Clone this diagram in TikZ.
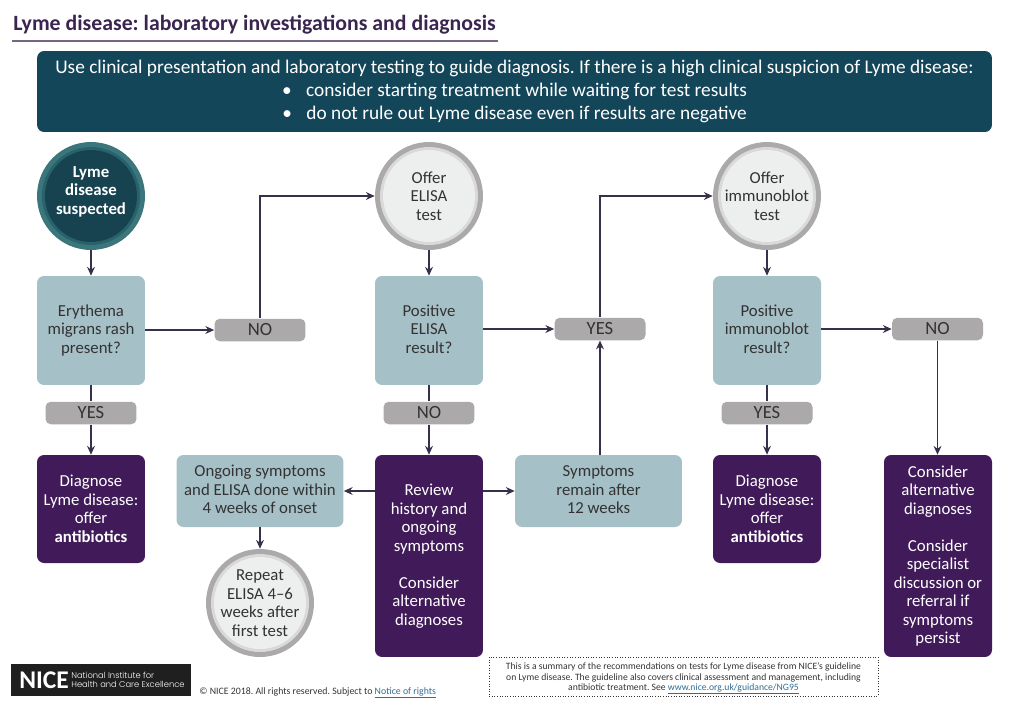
\documentclass[tikz,border=0pt]{standalone}
\usepackage{fontspec}
\usepackage{xcolor}
\setmainfont{Carlito}
\newfontfamily\logofont[UprightFont=* Light]{Poppins}
\usetikzlibrary{arrows.meta}
\frenchspacing
\definecolor{nicenavy}{HTML}{14465A}
\definecolor{nicedeep}{HTML}{16434F}
\definecolor{niceteal}{HTML}{3A767C}
\definecolor{nicemidteal}{HTML}{28626A}
\definecolor{nicepale}{HTML}{A5C0C6}
\definecolor{nicepurple}{HTML}{411B59}
\definecolor{nicepill}{HTML}{ABA9A9}
\definecolor{nicering}{HTML}{D9D9D9}
\definecolor{nicefog}{HTML}{EDEEEE}
\definecolor{niceink}{HTML}{38304A}
\definecolor{nicetext}{HTML}{333333}
\definecolor{nicelink}{HTML}{2E6E93}
\definecolor{nicehead}{HTML}{3A2450}
\newcommand{\linktext}[1]{\textcolor{nicelink}{\underline{\smash{#1}}}}
% empty last line, lifts a label inside its box
\newcommand{\lift}[1]{\\[#1]~}
\tikzset{
  basebox/.style={rectangle,rounded corners=4pt,align=center,inner sep=0pt,
    font=\fontsize{9.55}{10.55}\selectfont},
  question/.style={basebox,fill=nicepale,text=nicetext,minimum width=2.16cm,minimum height=2.18cm},
  wide question/.style={question,minimum width=3.34cm,minimum height=1.44cm},
  outcome/.style={basebox,fill=nicepurple,text=white,minimum width=2.16cm},
  answer/.style={basebox,fill=nicepill,text=nicetext,minimum width=1.82cm,minimum height=0.45cm,
    rounded corners=3pt,font=\fontsize{10.6}{10.5}\selectfont},
  test/.style={circle,fill=nicepill,text=nicetext,minimum size=2.16cm,inner sep=0pt,align=center,
    font=\fontsize{9.55}{10.55}\selectfont,
    path picture={
      \fill[nicering] (path picture bounding box.center) circle (0.98cm);
      \fill[nicefog] (path picture bounding box.center) circle (0.92cm);
    }},
  start/.style={test,fill=niceteal,text=white,font=\fontsize{9.55}{10.55}\selectfont\bfseries,
    path picture={
      \fill[nicemidteal] (path picture bounding box.center) circle (0.98cm);
      \fill[nicedeep] (path picture bounding box.center) circle (0.92cm);
    }},
  flow/.style={draw=niceink,line width=0.7pt,-{Stealth[length=5pt,width=4.5pt]}},
  plain flow/.style={draw=niceink,line width=0.7pt}
}
\begin{document}
\begin{tikzpicture}[x=0.02cm,y=-0.02cm]
  \useasboundingbox (0,0) rectangle (1024,711);
  % heading and banner
  \node[anchor=west,inner sep=0pt,text=nicehead,font=\fontsize{12.4}{14}\selectfont\bfseries] (title) at (13,25)
    {Lyme disease: laboratory investigations and diagnosis};
  \coordinate (ruleL) at (12,41);
  \coordinate (ruleR) at (498,41);
  \draw[draw=nicehead!70!white,line width=0.6pt] (ruleL)--(ruleR);
  \node[basebox,fill=nicenavy,text=white,minimum width=19.1cm,minimum height=1.62cm,
    font=\fontsize{11}{13.1}\selectfont] (banner) at (514.5,91.5)
    {Use clinical presentation and laboratory testing to guide diagnosis. If there is a high clinical suspicion of Lyme disease:\\
     \textbullet\hspace{0.75em}consider starting treatment while waiting for test results\\
     \textbullet\hspace{0.75em}do not rule out Lyme disease even if results are negative};
  % first column
  \node[start] (suspected) at (91,196) {Lyme\\disease\\suspected\lift{-4pt}};
  \node[question] (rash) at (91,330.5) {Erythema\\migrans rash\\present?\lift{-9pt}};
  \node[answer] (rashyes) at (91,413) {YES};
  \node[outcome,minimum height=2.16cm] (diagnoseA) at (91,509) {Diagnose\\Lyme disease:\\offer\\\textbf{antibiotics}};
  \node[answer] (rashno) at (260,330) {NO};
  % second column
  \node[test] (elisa) at (429,196) {Offer\\ELISA\\test};
  \node[question] (posElisa) at (429,330.5) {Positive\\ELISA\\result?\lift{-9pt}};
  \node[answer] (elisano) at (429,413) {NO};
  \node[outcome,minimum height=4.04cm] (review) at (429,556)
    {Review\\history and\\ongoing\\symptoms\\[10.5pt]Consider\\alternative\\diagnoses};
  \node[wide question] (ongoing) at (260,491) {Ongoing symptoms\\and ELISA done within\\4 weeks of onset\lift{-9pt}};
  \node[test] (repeat) at (260,603) {Repeat\\ELISA 4--6\\weeks after\\first test};
  \node[wide question] (remain) at (598.5,491) {Symptoms\\remain after\\12 weeks\lift{-9pt}};
  \node[answer] (elisayes) at (600,329) {YES};
  % third column
  \node[test] (immuno) at (767,196) {Offer\\immunoblot\\test};
  \node[question] (posImmuno) at (767,330.5) {Positive\\immunoblot\\result?\lift{-9pt}};
  \node[answer] (immunoyes) at (767,413) {YES};
  \node[outcome,minimum height=2.16cm] (diagnoseB) at (767,509) {Diagnose\\Lyme disease:\\offer\\\textbf{antibiotics}};
  \node[answer] (immunono) at (937.5,329) {NO};
  \node[outcome,minimum height=4.04cm] (alternative) at (938,556)
    {Consider\\alternative\\diagnoses\\[10.5pt]Consider\\specialist\\discussion or\\referral if\\symptoms\\persist};
  % connectors
  \draw[flow] (suspected)--(rash);
  \draw[plain flow] (rash)--(rashyes);
  \draw[flow] (rashyes)--(diagnoseA);
  \draw[flow] (rash.east|-rashno)--(rashno);
  \draw[flow] (rashno.north) |- (elisa.west);
  \draw[flow] (elisa)--(posElisa);
  \draw[plain flow] (posElisa)--(elisano);
  \draw[flow] (elisano)--(elisano|-review.north);
  \draw[flow] (posElisa.east|-elisayes)--(elisayes);
  \draw[flow] (elisayes.north) |- (immuno.west);
  \draw[flow] (review.west|-ongoing)--(ongoing);
  \draw[flow] (review.east|-remain)--(remain);
  \draw[flow] (remain.north-|elisayes)--(elisayes);
  \draw[flow] (ongoing)--(repeat);
  \draw[flow] (immuno)--(posImmuno);
  \draw[plain flow] (posImmuno)--(immunoyes);
  \draw[flow] (immunoyes)--(diagnoseB);
  \draw[flow] (posImmuno.east|-immunono)--(immunono);
  \draw[flow] (immunono)--(immunono|-alternative.north);
  % footer
  \node[fill=black!88,text=white,minimum width=3.6cm,minimum height=0.64cm,inner sep=0pt] (logo) at (101,680) {};
  \node[anchor=west,inner sep=0pt,text=white,font=\fontsize{14.5}{14.5}\selectfont\bfseries] (logoname) at (19,680) {NICE};
  \node[anchor=west,inner sep=0pt,text=white,align=left,font=\logofont\fontsize{4.75}{5.2}\selectfont] (logotext) at (71,680)
    {National Institute for\\Health and Care Excellence};
  \node[anchor=west,inner sep=0pt,text=nicetext,font=\fontsize{5.6}{7}\selectfont] (rights) at (199,693)
    {\textcopyright{} NICE 2018. All rights reserved. Subject to \linktext{Notice of rights}};
  \node[draw=nicetext,densely dotted,line width=0.5pt,minimum width=7.78cm,minimum height=0.78cm,inner sep=0pt] (summary) at (683.5,676.5) {};
  \node[inner sep=0pt,align=center,text=nicetext,font=\fontsize{5.5}{6}\selectfont] (summarytext) at (683.5,678.5)
    {This is a summary of the recommendations on tests for Lyme disease from NICE's guideline\\
     on Lyme disease. The guideline also covers clinical assessment and management, including\\
     antibiotic treatment. See \linktext{www.nice.org.uk/guidance/NG95}};
\end{tikzpicture}
\end{document}
